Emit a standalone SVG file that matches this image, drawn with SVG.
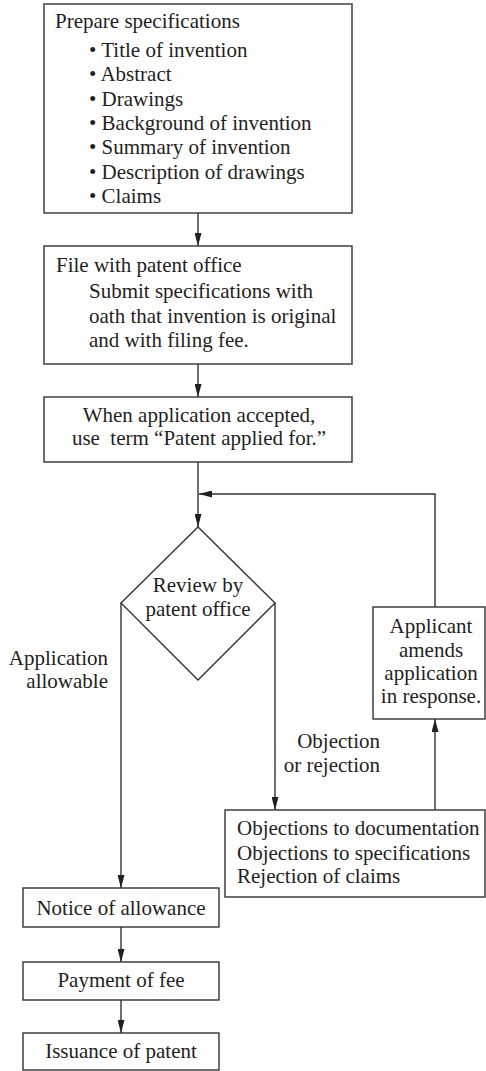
<svg xmlns="http://www.w3.org/2000/svg" width="486" height="1071" viewBox="0 0 486 1071">
<defs>
<marker id="ah" markerUnits="userSpaceOnUse" markerWidth="13" markerHeight="7" refX="13" refY="3.5" orient="auto">
<path d="M0,0 L13,3.5 L0,7 z" fill="#231f20"/>
</marker>
<style>
.b{fill:#fff;stroke:#333;stroke-width:1.4}
.c{fill:none;stroke:#333;stroke-width:1.4}
text{font-family:"Liberation Serif","Times New Roman",serif;font-size:21px;fill:#231f20}
.m{text-anchor:middle}
.e{text-anchor:end}
</style>
</defs>
<rect width="486" height="1071" fill="#fff"/>
<g id="connectors">
<line class="c" x1="198" y1="213" x2="198" y2="246" marker-end="url(#ah)"/>
<line class="c" x1="198" y1="364" x2="198" y2="397" marker-end="url(#ah)"/>
<line class="c" x1="198" y1="462" x2="198" y2="527" marker-end="url(#ah)"/>
<polyline class="c" points="435,607 435,494 199,494" marker-end="url(#ah)"/>
<line class="c" x1="121" y1="603" x2="121" y2="888" marker-end="url(#ah)"/>
<line class="c" x1="275" y1="603" x2="275" y2="810" marker-end="url(#ah)"/>
<line class="c" x1="435" y1="810" x2="435" y2="719" marker-end="url(#ah)"/>
<line class="c" x1="121" y1="927" x2="121" y2="962" marker-end="url(#ah)"/>
<line class="c" x1="121" y1="1000" x2="121" y2="1033" marker-end="url(#ah)"/>
</g>
<g id="prepare">
<rect class="b" x="44" y="4" width="308" height="209"/>
<text x="55" y="28">Prepare specifications</text>
<text x="89" y="57">• Title of invention</text>
<text x="89" y="81">• Abstract</text>
<text x="89" y="105.5">• Drawings</text>
<text x="89" y="130">• Background of invention</text>
<text x="89" y="154">• Summary of invention</text>
<text x="89" y="178.5">• Description of drawings</text>
<text x="89" y="203">• Claims</text>
</g>
<g id="file">
<rect class="b" x="44" y="246" width="308" height="118"/>
<text x="56" y="272">File with patent office</text>
<text x="89" y="298">Submit specifications with</text>
<text x="89" y="323">oath that invention is original</text>
<text x="89" y="347">and with filing fee.</text>
</g>
<g id="accepted">
<rect class="b" x="44" y="397" width="308" height="65"/>
<text class="m" x="199" y="422">When application accepted,</text>
<text class="m" x="199" y="445" xml:space="preserve">use  term “Patent applied for.”</text>
</g>
<g id="review">
<polygon class="b" points="198,527 275,603 198,680 121,603"/>
<text class="m" x="198" y="592">Review by</text>
<text class="m" x="198" y="616">patent office</text>
</g>
<g id="label-allowable">
<text class="e" x="108" y="665">Application</text>
<text class="e" x="108" y="688">allowable</text>
</g>
<g id="label-objection">
<text class="e" x="380" y="748">Objection</text>
<text class="e" x="380" y="772">or rejection</text>
</g>
<g id="amends">
<rect class="b" x="373" y="607" width="112" height="112"/>
<text class="m" x="431" y="633">Applicant</text>
<text class="m" x="431" y="657">amends</text>
<text class="m" x="431" y="680">application</text>
<text class="m" x="431" y="703">in response.</text>
</g>
<g id="objections">
<rect class="b" x="225" y="810" width="260" height="87"/>
<text x="237" y="835">Objections to documentation</text>
<text x="237" y="860">Objections to specifications</text>
<text x="237" y="883">Rejection of claims</text>
</g>
<g id="notice">
<rect class="b" x="23" y="888" width="196" height="39"/>
<text class="m" x="121" y="915">Notice of allowance</text>
</g>
<g id="payment">
<rect class="b" x="23" y="962" width="196" height="38"/>
<text class="m" x="121" y="987">Payment of fee</text>
</g>
<g id="issuance">
<rect class="b" x="23" y="1033" width="196" height="37"/>
<text class="m" x="121" y="1058">Issuance of patent</text>
</g>
</svg>
